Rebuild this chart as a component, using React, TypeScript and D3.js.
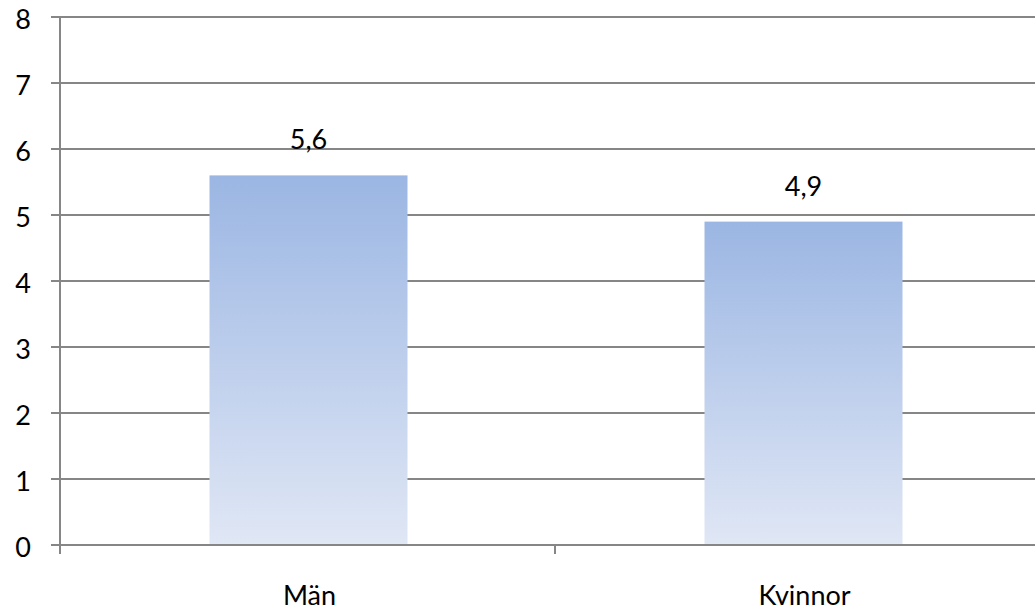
import React, { useEffect, useRef } from 'react';
import * as d3 from 'd3';

const categories = ['Män', 'Kvinnor'];
const values = [5.6, 4.9];
const valueLabels = ['5,6', '4,9'];
const yTicks = [0, 1, 2, 3, 4, 5, 6, 7, 8];

const App: React.FC = () => {
  const svgRef = useRef<SVGSVGElement>(null);

  useEffect(() => {
    if (!svgRef.current) return;

    const width = 1035;
    const height = 611;
    const left = 60;
    const top = 17;
    const plotH = 528;
    const plotW = 990; // runs past the right edge of the window

    const svg = d3.select(svgRef.current)
      .attr('width', width)
      .attr('height', height);

    svg.selectAll('*').remove();

    const defs = svg.append('defs');
    const grad = defs.append('linearGradient')
      .attr('id', 'barFill')
      .attr('x1', 0).attr('y1', 0)
      .attr('x2', 0).attr('y2', 1);
    grad.append('stop').attr('offset', '0%').attr('stop-color', '#9bb6e3');
    grad.append('stop').attr('offset', '100%').attr('stop-color', '#e0e7f5');

    const x = d3.scaleBand()
      .domain(categories)
      .range([left, left + plotW])
      .paddingInner(0)
      .paddingOuter(0);

    const y = d3.scaleLinear()
      .domain([0, 8])
      .range([top + plotH, top]);

    const font = 'Lato, Carlito, Calibri, sans-serif';
    const fontSize = 27;
    const grey = '#868686';

    // Gridlines with short tick stubs on the left
    svg.append('g')
      .selectAll('line')
      .data(yTicks)
      .enter()
      .append('line')
      .attr('x1', left - 9)
      .attr('x2', width)
      .attr('y1', d => y(d))
      .attr('y2', d => y(d))
      .attr('stroke', grey)
      .attr('stroke-width', 2);

    // Y labels
    svg.append('g')
      .selectAll('text')
      .data(yTicks)
      .enter()
      .append('text')
      .attr('x', 31)
      .attr('y', d => y(d) + 12)
      .attr('text-anchor', 'end')
      .attr('font-family', font)
      .attr('font-size', fontSize)
      .attr('fill', '#000')
      .text(d => d);

    // Bars
    const barW = x.bandwidth() * 0.4;
    svg.append('g')
      .selectAll('rect')
      .data(categories)
      .enter()
      .append('rect')
      .attr('x', d => (x(d) as number) + x.bandwidth() / 2 - barW / 2 + 1)
      .attr('y', (d, i) => y(values[i]))
      .attr('width', barW)
      .attr('height', (d, i) => y(0) - y(values[i]))
      .attr('fill', 'url(#barFill)');

    // Value labels
    svg.append('g')
      .selectAll('text')
      .data(categories)
      .enter()
      .append('text')
      .attr('x', d => (x(d) as number) + x.bandwidth() / 2 + 1)
      .attr('y', (d, i) => y(values[i]) - 26)
      .attr('text-anchor', 'middle')
      .attr('font-family', font)
      .attr('font-size', fontSize)
      .attr('fill', '#000')
      .text((d, i) => valueLabels[i]);

    // Y axis line
    svg.append('line')
      .attr('x1', left).attr('x2', left)
      .attr('y1', top).attr('y2', y(0) + 9)
      .attr('stroke', grey)
      .attr('stroke-width', 2);

    // X axis line + category ticks
    svg.append('line')
      .attr('x1', left).attr('x2', width)
      .attr('y1', y(0)).attr('y2', y(0))
      .attr('stroke', grey)
      .attr('stroke-width', 2);

    svg.append('g')
      .selectAll('line')
      .data(categories.slice(1))
      .enter()
      .append('line')
      .attr('x1', d => x(d) as number)
      .attr('x2', d => x(d) as number)
      .attr('y1', y(0))
      .attr('y2', y(0) + 9)
      .attr('stroke', grey)
      .attr('stroke-width', 2);

    // Category labels
    svg.append('g')
      .selectAll('text')
      .data(categories)
      .enter()
      .append('text')
      .attr('x', d => (x(d) as number) + x.bandwidth() / 2 + 2)
      .attr('y', y(0) + 60)
      .attr('text-anchor', 'middle')
      .attr('font-family', font)
      .attr('font-size', fontSize)
      .attr('fill', '#000')
      .text(d => d);
  }, []);

  return (
    <div style={{ position: 'absolute', left: 0, top: 0 }}>
      <svg ref={svgRef} style={{ display: 'block' }} />
    </div>
  );
};

export default App;
